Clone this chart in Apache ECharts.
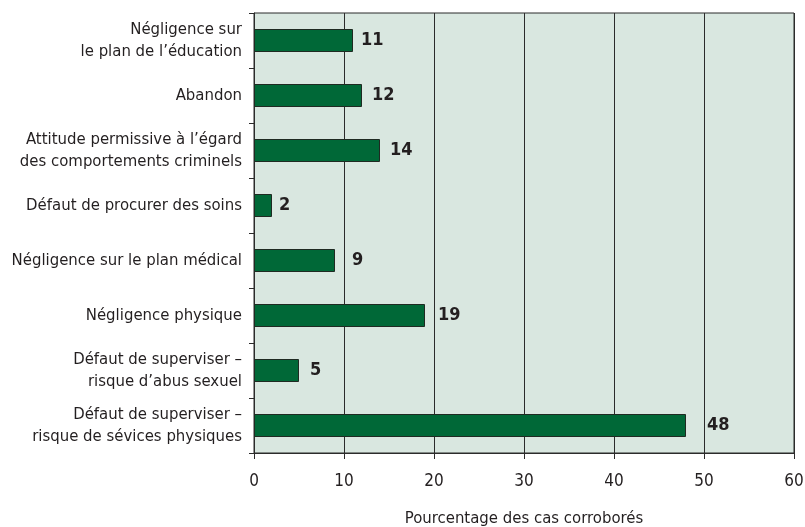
<!DOCTYPE html>
<html><head><meta charset="utf-8">
<script src="https://cdn.jsdelivr.net/npm/echarts@6/dist/echarts.min.js"></script>
<style>html,body{margin:0;padding:0;background:#fff}#c{width:805px;height:527px}</style>
</head><body><div id="c"></div>
<script>
const categories = [
  "Négligence sur\nle plan de l’éducation",
  "Abandon",
  "Attitude permissive à l’égard\ndes comportements criminels",
  "Défaut de procurer des soins",
  "Négligence sur le plan médical",
  "Négligence physique",
  "Défaut de superviser –\nrisque d’abus sexuel",
  "Défaut de superviser –\nrisque de sévices physiques"
];
const values = [11, 12, 14, 2, 9, 19, 5, 48];
const xTicks = [0, 10, 20, 30, 40, 50, 60];
const xAxisTitle = "Pourcentage des cas corroborés";

// label gaps (px) beside each bar, as placed in the original layout
const labelGaps = [8, 10, 10, 7, 17, 13, 11, 21];

const FONT = "'Liberation Sans Narrow', 'DejaVu Sans Condensed', sans-serif";
const TXT = '#231f20';
const chart = echarts.init(document.getElementById('c'), null, {renderer: 'canvas'});
chart.setOption({
  animation: false,
  grid: {left: 254, right: 11, top: 13, bottom: 74, show: true, outerBoundsMode: 'none', containLabel: false,
         backgroundColor: '#d9e7e0', borderColor: '#2b2b2b', borderWidth: 1},
  xAxis: {
    type: 'value', min: xTicks[0], max: xTicks[xTicks.length - 1], interval: 10,
    name: xAxisTitle, nameLocation: 'middle', nameGap: 57,
    nameTextStyle: {fontFamily: FONT, fontSize: 16.6, color: TXT},
    axisLine: {show: true, lineStyle: {color: '#2b2b2b', width: 1}},
    axisTick: {show: true, length: 6, lineStyle: {color: '#2b2b2b'}},
    axisLabel: {fontFamily: FONT, fontSize: 17, color: TXT, margin: 20},
    splitLine: {show: true, lineStyle: {color: '#2b2b2b', width: 1}}
  },
  yAxis: {
    type: 'category', data: categories, inverse: true,
    axisLine: {show: true, lineStyle: {color: '#2b2b2b', width: 1}},
    axisTick: {show: true, length: 5, lineStyle: {color: '#2b2b2b'}},
    axisLabel: {fontFamily: FONT, fontSize: 16.6, color: TXT, margin: 12, lineHeight: 22, align: 'right'},
    splitLine: {show: false}
  },
  series: [{
    type: 'bar', barWidth: 23,
    data: values.map((v, i) => ({value: v, label: {distance: labelGaps[i]}})),
    itemStyle: {color: '#006837', borderColor: '#1f2a22', borderWidth: 1},
    label: {show: true, position: 'right', distance: 10, fontFamily: FONT, fontSize: 18,
            fontWeight: 'bold', color: TXT}
  }]
});
</script></body></html>
